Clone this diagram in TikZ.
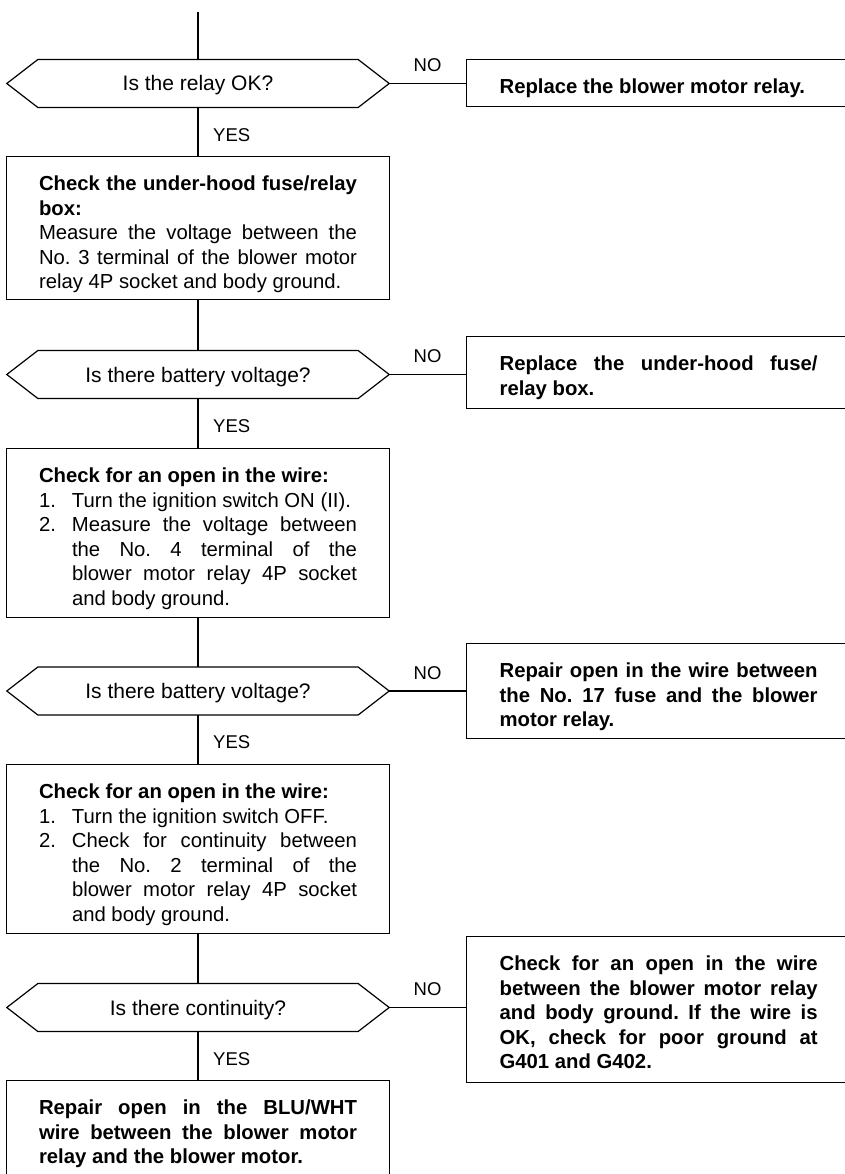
\documentclass[tikz,border=0pt]{standalone}
\usepackage{fontspec}
\setmainfont{Liberation Sans}
\usetikzlibrary{positioning}
\frenchspacing
\hyphenpenalty=10000
\exhyphenpenalty=10000
\tolerance=10000
\hbadness=10000
\newcommand{\boxfont}{\fontsize{20.3}{24.5}\selectfont}
\newcommand{\flowtext}[2]{\parbox[c][#1][t]{318pt}{\rule{0pt}{34pt}#2}}
\newcommand{\itemno}[1]{\makebox[33pt][l]{#1}}

\begin{document}
\begin{tikzpicture}[x=1pt, y=-1pt,
		flow/.style={line width=1.2pt},
		query/.style={minimum width=382pt, minimum height=47.5pt, inner sep=0pt,
			text height=15pt, text depth=0pt, font=\fontsize{21}{24}\selectfont},
		action/.style={draw, flow, anchor=north, inner xsep=32.5pt, inner ysep=0pt, font=\boxfont},
		remedy/.style={draw, flow, anchor=north west, inner xsep=33pt, inner ysep=0pt, font=\boxfont\bfseries},
		answer/.style={inner sep=0pt, font=\fontsize{18.5}{20}\selectfont}]
			\def\cx{198}
			\def\rx{466}
			\useasboundingbox (0,0) rectangle (844,1174);

			\coordinate (start) at (\cx,12);

			% Step 1: relay
			\node[query] (q1) at (\cx,83.5) {Is the relay OK?};
			\node[remedy] (r1) at (\rx,59) {\flowtext{47pt}{Replace the blower motor relay.}};
			\node[action] (a) at (\cx,156) {\flowtext{143pt}{\textbf{Check the under-hood fuse/relay\linebreak box:}\\
				Measure the voltage between the\linebreak No. 3 terminal of the blower motor\linebreak relay 4P socket and body ground.}};

			% Step 2: fuse/relay box
			\node[query] (q2) at (\cx,374.5) {Is there battery voltage?};
			\node[remedy] (r2) at (\rx,336) {\flowtext{72pt}{Replace the under-hood fuse/\linebreak relay box.}};
			\node[action] (b) at (\cx,448) {\flowtext{169pt}{\textbf{Check for an open in the wire:}\par
				\hangindent=33pt \itemno{1.}Turn the ignition switch ON (II).\par
				\hangindent=33pt \itemno{2.}Measure the voltage between\linebreak the No. 4 terminal of the\linebreak blower motor relay 4P socket\linebreak and body ground.}};

			% Step 3: feed wire
			\node[query] (q3) at (\cx,691) {Is there battery voltage?};
			\node[remedy] (r3) at (\rx,643) {\flowtext{95pt}{Repair open in the wire between\linebreak the No. 17 fuse and the blower\linebreak motor relay.}};
			\node[action] (c) at (\cx,764) {\flowtext{169pt}{\textbf{Check for an open in the wire:}\par
				\hangindent=33pt \itemno{1.}Turn the ignition switch OFF.\par
				\hangindent=33pt \itemno{2.}Check for continuity between\linebreak the No. 2 terminal of the\linebreak blower motor relay 4P socket\linebreak and body ground.}};

			% Step 4: ground wire
			\node[query] (q4) at (\cx,1007.5) {Is there continuity?};
			\node[remedy] (r4) at (\rx,936) {\flowtext{146pt}{Check for an open in the wire\linebreak between the blower motor relay\linebreak and body ground. If the wire is\linebreak OK, check for poor ground at\linebreak G401 and G402.}};
			\node[action] (d) at (\cx,1080) {\flowtext{97pt}{\textbf{Repair open in the BLU/WHT\linebreak wire between the blower motor\linebreak relay and the blower motor.}}};

			% hexagons
			\draw[flow] (q1.west) -- ([xshift=31pt]q1.north west) -- ([xshift=-31pt]q1.north east) -- (q1.east) -- ([xshift=-31pt]q1.south east) -- ([xshift=31pt]q1.south west) -- cycle;
			\draw[flow] (q2.west) -- ([xshift=31pt]q2.north west) -- ([xshift=-31pt]q2.north east) -- (q2.east) -- ([xshift=-31pt]q2.south east) -- ([xshift=31pt]q2.south west) -- cycle;
			\draw[flow] (q3.west) -- ([xshift=31pt]q3.north west) -- ([xshift=-31pt]q3.north east) -- (q3.east) -- ([xshift=-31pt]q3.south east) -- ([xshift=31pt]q3.south west) -- cycle;
			\draw[flow] (q4.west) -- ([xshift=31pt]q4.north west) -- ([xshift=-31pt]q4.north east) -- (q4.east) -- ([xshift=-31pt]q4.south east) -- ([xshift=31pt]q4.south west) -- cycle;

			% YES path
			\draw[flow] (start) -- (q1.north);
			\draw[flow] (q1.south) -- (a.north);
			\draw[flow] (a.south) -- (q2.north);
			\draw[flow] (q2.south) -- (b.north);
			\draw[flow] (b.south) -- (q3.north);
			\draw[flow] (q3.south) -- (c.north);
			\draw[flow] (c.south) -- (q4.north);
			\draw[flow] (q4.south) -- (d.north);

			\node[answer, anchor=west] (yes1) at ([shift={(15,27.5)}]q1.south) {YES};
			\node[answer, anchor=west] (yes2) at ([shift={(15,27.5)}]q2.south) {YES};
			\node[answer, anchor=west] (yes3) at ([shift={(15,27.5)}]q3.south) {YES};
			\node[answer, anchor=west] (yes4) at ([shift={(15,27.5)}]q4.south) {YES};

			% NO path
			\draw[flow] (q1.east) -- node[answer, above=11pt] (no1) {NO} (q1.east -| r1.west);
			\draw[flow] (q2.east) -- node[answer, above=11pt] (no2) {NO} (q2.east -| r2.west);
			\draw[flow] (q3.east) -- node[answer, above=11pt] (no3) {NO} (q3.east -| r3.west);
			\draw[flow] (q4.east) -- node[answer, above=11pt] (no4) {NO} (q4.east -| r4.west);

		\end{tikzpicture}
\end{document}
